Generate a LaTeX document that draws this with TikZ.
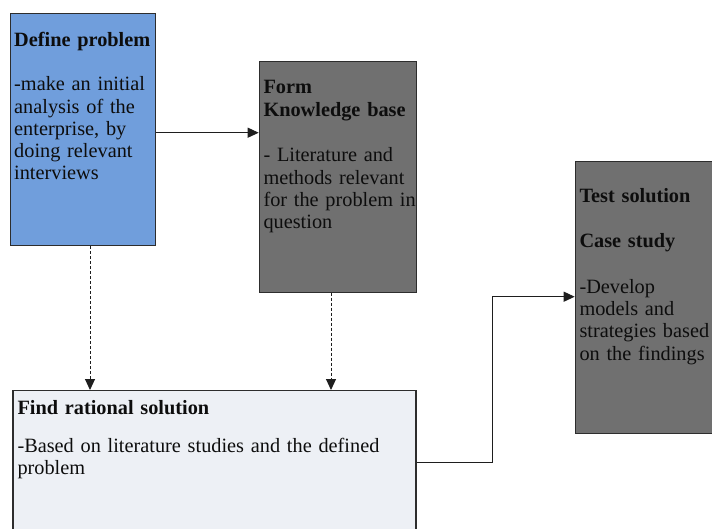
\documentclass[tikz,border=0pt]{standalone}
\usepackage{fontspec}
\setmainfont{Liberation Serif}
\usetikzlibrary{arrows.meta}

\definecolor{defineblue}{RGB}{112,158,220}
\definecolor{darkgraybox}{RGB}{112,112,112}
\definecolor{paleblue}{RGB}{237,240,245}
\definecolor{edgecol}{RGB}{45,45,45}
\definecolor{linecol}{RGB}{30,30,30}

\tikzset{
  panel/.style={draw=edgecol, line width=1.2pt, anchor=north west, inner sep=0pt},
  panelText/.style={anchor=base west, inner sep=0pt, text width=400pt, align=left,
    font=\fontsize{20.3}{22.3}\selectfont, text=black!95},
  link/.style={draw=linecol, line width=1pt, -{Triangle[length=11pt,width=10pt]}},
  dashlink/.style={link, dash pattern=on 3pt off 2pt},
}

\begin{document}
\begin{tikzpicture}[x=1pt, y=-1pt]
  \useasboundingbox (0,0) rectangle (712,528);
  \clip (0,0) rectangle (712,528);

  % boxes
  \node[panel, fill=defineblue, minimum width=145.5pt, minimum height=232pt] (b1) at (9.5,13) {};
  \node[panel, fill=darkgraybox, minimum width=157pt, minimum height=230.5pt] (b2) at (258.7,61) {};
  \node[panel, fill=darkgraybox, minimum width=136.8pt, minimum height=272pt] (b3) at (574.7,161) {};
  \node[panel, fill=paleblue, minimum width=403pt, minimum height=150pt] (b4) at (12.3,390) {};

  % box texts
  \node[panelText] (t1) at (14,46.7)
    {\textbf{Define problem}\\[21.7pt]
     -make an initial\\analysis of the\\enterprise, by\\doing relevant\\interviews};
  \node[panelText] (t2) at (263.3,93.3)
    {\textbf{Form}\\[1.1pt]\textbf{Knowledge base}\\[22.7pt]
     - Literature and\\methods relevant\\for the problem in\\question};
  \node[panelText] (t3) at (579.3,202.3)
    {\textbf{Test solution}\\[23.1pt]\textbf{Case study}\\[23.3pt]
     -Develop\\models and\\strategies based\\on the findings};
  \node[panelText] (t4) at (17.3,414)
    {\textbf{Find rational solution}\\[15.7pt]
     -Based on literature studies and the defined\\[-0.3pt]problem};

  % connectors
  \draw[link] (b1.east |- 0,132.7) -- (b2.west |- 0,132.7);
  \draw[dashlink] (b1.south -| 90,0) -- (b4.north -| 90,0);
  \draw[dashlink] (b2.south -| 331,0) -- (b4.north -| 331,0);
  \draw[link] (b4.east |- 0,462.7) -- (492.7,462.7) |- (b3.west |- 0,296.7);
\end{tikzpicture}
\end{document}
